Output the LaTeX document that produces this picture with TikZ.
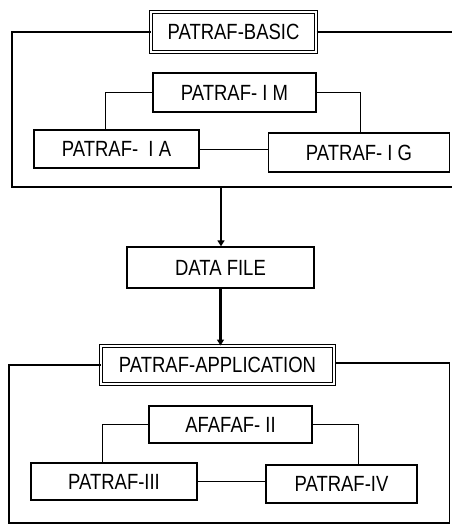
\documentclass[tikz,border=0pt]{standalone}
\usepackage{fontspec}
\setmainfont[FakeStretch=0.84]{Liberation Sans}
\usetikzlibrary{arrows.meta}
\begin{document}
\begin{tikzpicture}[x=1pt,y=-1pt,
  box/.style={draw,line width=1.3pt,inner sep=0pt,font=\fontsize{22}{24}\selectfont},
  titlebox/.style={box,double,line width=1pt,double distance=1.6pt},
  frame/.style={line width=1.9pt},
  link/.style={line width=1pt},
  flow/.style={line width=2.6pt,-{Triangle[width=7pt,length=6pt]}}]
\useasboundingbox (0,0) rectangle (451,525);
% top group
\node[titlebox,minimum width=165pt,minimum height=40pt] (basic) at (233.5,32) {PATRAF-BASIC};
\node[box,minimum width=163pt,minimum height=39pt] (im) at (234.5,92.5) {PATRAF- I M};
\node[box,minimum width=165pt,minimum height=38pt] (ia) at (116.5,149) {PATRAF-\ \ I A};
\node[box,minimum width=181pt,minimum height=39pt] (ig) at (359,152.5) {PATRAF- I G};
\draw[frame] (basic.west) -| (12,187) -- (453,187);
\draw[frame] (basic.east) -- (453,32);
\draw[link] (im.west) -| ([xshift=-11.5pt]ia.north);
\draw[link] (im.east) -| ([xshift=1pt]ig.north);
\draw[link] (ia.east) -- (ia.east -| ig.west);
% middle
\coordinate (fb) at (221,187);
\node[box,minimum width=187pt,minimum height=41pt] (data) at (220.5,267.5) {DATA FILE};
\draw[flow] (fb) -- (fb |- data.north);
% bottom group
\node[titlebox,minimum width=233pt,minimum height=38pt] (app) at (217.5,365) {PATRAF-APPLICATION};
\draw[flow] (data.south) -- (data.south |- app.north);
\node[box,minimum width=163pt,minimum height=37pt] (af) at (230.5,424.5) {AFAFAF- II};
\node[box,minimum width=166pt,minimum height=37pt] (p3) at (114,481.5) {PATRAF-III};
\node[box,minimum width=151pt,minimum height=38pt] (p4) at (341.5,484) {PATRAF-IV};
\draw[frame] (app.west) -| (9,523) -| (449.5,363) -- (app.east |- 0,363);
\draw[link] (af.west) -| ([xshift=-12pt]p3.north);
\draw[link] (af.east) -| ([xshift=16.5pt]p4.north);
\draw[link] (p3.east) -- (p3.east -| p4.west);
\end{tikzpicture}
\end{document}
